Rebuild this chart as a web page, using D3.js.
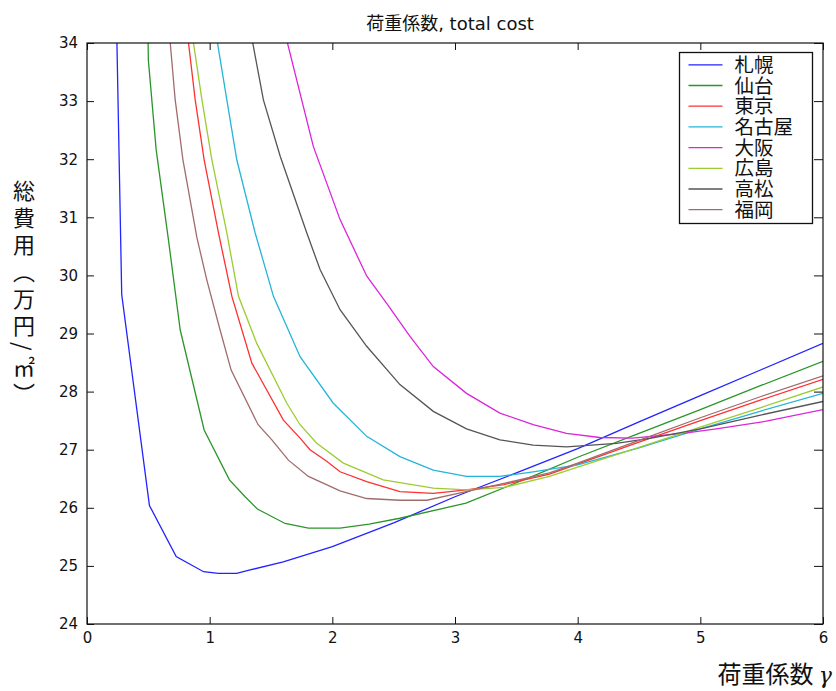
<!DOCTYPE html>
<html>
<head>
<meta charset="utf-8">
<script src="https://cdn.jsdelivr.net/npm/d3@7/dist/d3.min.js"></script>
<style>
  html, body { margin: 0; padding: 0; background: #fff; }
  svg { display: block; }
</style>
</head>
<body>
<div id="chart"></div>
<script>
// Total cost (万円/㎡) against load factor γ for eight cities.
// Each series is a list of [γ, cost] points.
const sapporo = [[0.235,35.0],[0.283,29.67],[0.509,26.04],[0.727,25.16],[0.95,24.90],[1.07,24.87],[1.22,24.87],[1.33,24.93],[1.6,25.07],[2.0,25.33],[2.5,25.74],[3.0,26.19],[3.5,26.60],[4.0,27.02],[4.5,27.48],[5.0,27.93],[5.5,28.38],[6.0,28.83]];
const sendai = [[0.495,34.5],[0.50,33.71],[0.564,32.16],[0.664,30.61],[0.76,29.06],[0.955,27.34],[1.161,26.48],[1.289,26.19],[1.389,25.98],[1.615,25.73],[1.805,25.65],[2.063,25.65],[2.3,25.72],[2.55,25.82],[3.09,26.08],[3.64,26.55],[4.0,26.87],[4.5,27.28],[5.0,27.69],[5.5,28.11],[6.0,28.52]];
const tokyo = [[0.80,34.5],[0.882,33.02],[0.955,31.99],[1.072,30.73],[1.181,29.64],[1.344,28.49],[1.601,27.51],[1.737,27.2],[1.818,27.0],[1.954,26.8],[2.063,26.62],[2.28,26.45],[2.551,26.28],[2.823,26.25],[3.094,26.31],[3.4,26.40],[3.77,26.58],[4.0,26.75],[4.5,27.13],[5.0,27.5],[5.5,27.86],[6.0,28.21]];
const nagoya = [[1.025,34.5],[1.14,33.02],[1.221,31.99],[1.371,30.73],[1.52,29.64],[1.737,28.6],[2.008,27.80],[2.28,27.23],[2.551,26.88],[2.823,26.65],[3.094,26.54],[3.366,26.54],[3.637,26.62],[4.0,26.74],[4.5,27.03],[5.0,27.36],[5.5,27.67],[6.0,27.97]];
const osaka = [[1.575,34.5],[1.845,32.22],[2.063,30.96],[2.28,29.99],[2.443,29.52],[2.633,28.95],[2.823,28.43],[3.094,27.97],[3.366,27.63],[3.637,27.43],[3.909,27.28],[4.18,27.21],[4.45,27.20],[4.858,27.28],[5.13,27.36],[5.537,27.49],[6.0,27.69]];
const hiroshima = [[0.833,34.5],[0.937,33.02],[1.018,31.99],[1.14,30.73],[1.235,29.64],[1.384,28.83],[1.629,27.8],[1.737,27.43],[1.873,27.11],[2.09,26.77],[2.415,26.48],[2.823,26.34],[3.094,26.31],[3.4,26.35],[3.77,26.54],[4.0,26.70],[4.5,27.04],[5.0,27.39],[5.5,27.73],[6.0,28.08]];
const takamatsu = [[1.307,34.5],[1.438,33.02],[1.575,32.05],[1.792,30.73],[1.9,30.10],[2.063,29.41],[2.28,28.78],[2.551,28.12],[2.823,27.66],[3.094,27.36],[3.366,27.17],[3.637,27.08],[3.909,27.05],[4.316,27.11],[4.6,27.2],[5.0,27.36],[5.5,27.6],[6.0,27.83]];
const fukuoka = [[0.658,34.5],[0.719,33.02],[0.782,31.99],[0.896,30.65],[0.977,29.92],[1.085,29.06],[1.175,28.37],[1.395,27.43],[1.507,27.17],[1.642,26.82],[1.805,26.54],[2.063,26.29],[2.28,26.16],[2.55,26.13],[2.77,26.13],[3.09,26.28],[3.4,26.42],[3.77,26.60],[4.0,26.77],[4.5,27.16],[5.0,27.55],[5.5,27.92],[6.0,28.27]];

const cityNames = ["札幌","仙台","東京","名古屋","大阪","広島","高松","福岡"];
const cityColors = ["#2323ff","#2a962a","#ff3030","#25b5d8","#dc25dc","#9ccc30","#555555","#a06c6c"];
const cityData = [sapporo, sendai, tokyo, nagoya, osaka, hiroshima, takamatsu, fukuoka];

const xTicks = [0,1,2,3,4,5,6];
const yTicks = [24,25,26,27,28,29,30,31,32,33,34];

const W = 836, H = 691;
const plot = {left: 87, right: 823, top: 43, bottom: 624};

const svg = d3.select("#chart").append("svg")
  .attr("width", W).attr("height", H)
  .style("background", "#fff");

const x = d3.scaleLinear().domain([0, 6]).range([plot.left, plot.right]);
const y = d3.scaleLinear().domain([24, 34]).range([plot.bottom, plot.top]);

svg.append("defs").append("clipPath").attr("id", "plot-clip")
  .append("rect")
  .attr("x", plot.left).attr("y", plot.top)
  .attr("width", plot.right - plot.left).attr("height", plot.bottom - plot.top);

// title
svg.append("text")
  .attr("x", (plot.left + plot.right) / 2 - 5).attr("y", 30)
  .attr("text-anchor", "middle")
  .attr("font-family", "'DejaVu Sans', 'Noto Sans CJK JP', sans-serif")
  .attr("font-size", 18)
  .attr("fill", "#111")
  .text("荷重係数, total cost");

// curves
const line = d3.line().x(d => x(d[0])).y(d => y(d[1]));
const curves = svg.append("g").attr("clip-path", "url(#plot-clip)");
cityData.forEach((pts, i) => {
  curves.append("path")
    .datum(pts)
    .attr("d", line)
    .attr("fill", "none")
    .attr("stroke", cityColors[i])
    .attr("stroke-width", 1.3);
});

// axes with inward ticks on all four sides
const tickFont = "'DejaVu Sans', sans-serif";
function styleAxis(g) {
  g.select(".domain").remove();
  g.selectAll(".tick line").attr("stroke", "#111").attr("stroke-width", 1);
  g.selectAll(".tick text").attr("font-family", tickFont).attr("font-size", 15).attr("fill", "#111");
}
svg.append("g").attr("transform", `translate(0,${plot.bottom})`)
  .call(d3.axisBottom(x).tickValues(xTicks).tickFormat(d3.format("d")).tickSize(-7).tickPadding(8))
  .call(styleAxis);
svg.append("g").attr("transform", `translate(0,${plot.top})`)
  .call(d3.axisTop(x).tickValues(xTicks).tickFormat("").tickSize(-7))
  .call(styleAxis);
svg.append("g").attr("transform", `translate(${plot.left},0)`)
  .call(d3.axisLeft(y).tickValues(yTicks).tickFormat(d3.format("d")).tickSize(-7).tickPadding(9))
  .call(styleAxis);
svg.append("g").attr("transform", `translate(${plot.right},0)`)
  .call(d3.axisRight(y).tickValues(yTicks).tickFormat("").tickSize(-9))
  .call(styleAxis);

// axes box
svg.append("rect")
  .attr("x", plot.left).attr("y", plot.top)
  .attr("width", plot.right - plot.left).attr("height", plot.bottom - plot.top)
  .attr("fill", "none").attr("stroke", "#111").attr("stroke-width", 1.2);

// legend
const legend = svg.append("g").attr("transform", "translate(679.5,52.5)");
legend.append("rect")
  .attr("width", 133).attr("height", 171)
  .attr("fill", "#fff").attr("stroke", "#111").attr("stroke-width", 1.3);
cityNames.forEach((name, i) => {
  const cy = 12.3 + i * 20.7;
  legend.append("line")
    .attr("x1", 9).attr("x2", 43).attr("y1", cy).attr("y2", cy)
    .attr("stroke", cityColors[i]).attr("stroke-width", 1.3);
  legend.append("text")
    .attr("x", 55).attr("y", cy)
    .attr("dy", "0.36em")
    .attr("font-family", "'Noto Sans CJK JP', sans-serif")
    .attr("font-size", 19.5)
    .attr("fill", "#111")
    .text(name);
});

// y-axis label, written vertically
svg.append("text")
  .attr("x", 24).attr("y", 180)
  .attr("font-family", "'Noto Sans CJK JP', sans-serif")
  .attr("font-size", 22)
  .attr("fill", "#111")
  .style("writing-mode", "vertical-rl")
  .style("letter-spacing", "5px")
  .text("総費用（万円/㎡）");

// x-axis label
const xl = svg.append("text")
  .attr("x", 832).attr("y", 683)
  .attr("text-anchor", "end")
  .attr("font-family", "'Noto Sans CJK JP', sans-serif")
  .attr("font-size", 24)
  .attr("fill", "#111");
xl.append("tspan").text("荷重係数 ");
xl.append("tspan").attr("font-family", "'DejaVu Serif', serif").attr("font-style", "italic").attr("font-size", 22).text("γ");
</script>
</body>
</html>
